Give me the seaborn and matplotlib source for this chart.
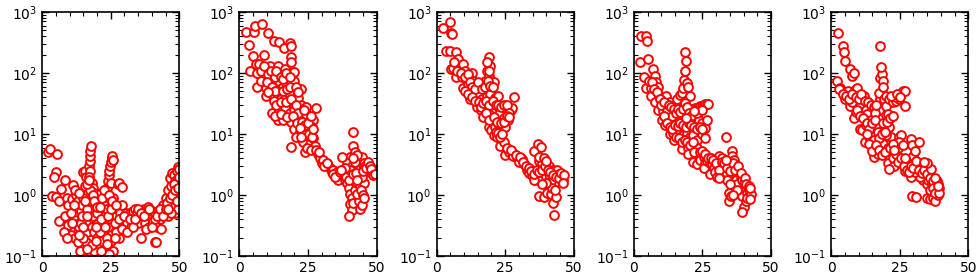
import numpy as np
import pandas as pd
import matplotlib
matplotlib.use('Agg')
import matplotlib.pyplot as plt
import seaborn as sns
from matplotlib.ticker import MultipleLocator, LogLocator, NullFormatter

# points, (x, y)
panel1 = [(2.2,5.1),(3,5.6),(5.5,4.7),(4.9,2.4),(4.5,2.0),(3.7,0.95),(4.9,0.92),(6.1,0.8),
          (6.7,1.25),(8.3,1.8),(11.2,1.45),(6.1,0.37),(8.5,0.45),(9,0.9),(9.5,0.7),(10,0.28),
          (10.5,0.22),(9.5,0.32),(11,0.85),(12,0.6),(12.5,0.75),(11.5,0.45),(12,0.2),(13,0.52),
          (13.5,0.3),(14,0.9),(14.5,0.15),(13.8,0.12),(15,2.4),(15.5,2.5),(16,2.0),(15.5,1.4),
          (16,1.0),(15,0.65),(15.5,0.45),(16,0.35),(16.5,0.25),(16,0.17),(17,0.12),(17,3.0),
          (17.3,3.6),(17.5,4.3),(17.6,5.2),(17.8,6.3),(17.5,2.5),(17.2,2.0),(18,1.6),(18.5,1.3),
          (19,1.1),(18,0.9),(18.5,0.7),(19,0.55),(19.5,0.4),(18,0.3),(19,0.25),(20,0.2),
          (20.5,0.15),(19,0.12),(20,0.9),(20.5,0.6),(21,0.45),(21.5,0.8),(22,0.55),(22,0.3),
          (22.5,0.22),(23,0.14),(23,1.0),(23.5,1.3),(24,1.7),(24.2,2.1),(24.5,2.5),(24.8,3.0),
          (25,3.5),(25.3,4.1),(25.6,4.3),(26,3.8),(25,1.6),(24,0.75),(24.5,0.5),(25,0.35),
          (25.5,0.25),(26,0.12),(24.5,0.11),(26,0.9),(26.5,0.6),(27,0.45),(27.5,1.5),(28,1.6),
          (29,1.35),(27.5,0.3),(28,0.2),(28.5,0.5),(29,0.7),(29.5,0.4),(30,0.3),(30.5,0.5),
          (31,0.35),(31.5,0.45),(32,0.5),(32.5,0.3),(33,0.55),(33.5,0.4),(34,0.6),(34.5,0.5),
          (35,0.35),(35.5,0.55),(36,0.2),(36.5,0.45),(37,0.6),(37.5,0.35),(38,0.5),(38.5,0.65),
          (39,0.3),(39.5,0.45),(40,0.55),(40.5,0.38),(41,0.17),(41.5,0.17),(41,0.5),(42,0.3),
          (42.5,0.55),(43,0.4),(43.5,0.28),(44,0.7),(44.5,0.6),(45,0.9),(45.5,0.5),(46,1.2),
          (46.5,1.9),(47,1.4),(47.5,2.3),(48,2.1),(48.5,1.7),(49,2.5),(49.5,2.9),(50,2.7),
          (47,0.7),(48,0.9),(48.5,0.5),(49,1.1),(49.5,0.6),(50,1.4),(50,0.9),(49.5,1.9),
          (46,0.45),(47,0.5),(12.5,1.0),(13,0.8),(14,0.55),(14.5,0.7),(15,0.9),(16.5,0.6),
          (17,0.8),(17.5,1.2),(18.5,0.45),(19.5,0.7),(20,0.5),(20.5,0.35),(21,0.25),(21.5,1.1),
          (22.5,0.7),(23,0.45),(23.5,0.6),(24,0.3),(26.5,0.35),(27,0.25),(13,0.17),(15,0.2),
          (18,0.15),(22,0.18),(25,0.18),(10.5,0.5),(11,0.35),(8,0.25),(9,0.2),
          (11.5,0.7),(12,1.2),(13.5,1.1),(14,0.35),(14.5,0.45),(15,0.3),(15.5,0.8),(16.5,0.45),
          (16.5,1.5),(17,1.8),(18.5,1.0),(19,0.8),(19.5,0.3),(20,0.65),(21,0.65),(21.5,0.4),
          (22,0.9),(22.5,1.2),(23,0.3),(23.5,0.2),(24,0.45),(24.5,1.0),(25,0.6),(25.5,0.8),
          (26.5,0.2),(27,0.7),(28,0.4),(29,0.28),(30,0.45),(31,0.25),(32,0.4),(33,0.3),
          (34,0.4),(35,0.6),(36,0.5),(37,0.45),(38,0.28),(39,0.6),(40,0.3),(41,0.4),(42,0.45),
          (43,0.6),(44,0.45),(45,0.6),(45.5,0.75),(46.5,0.9),(47.5,1.0),(48,1.5),(48.5,1.2),
          (49,0.8),(49.5,1.3),(50,2.0),(46,0.6),(13.5,0.22),(16.5,0.13),(21.5,0.12),(23.5,0.16),
          (19.5,0.18)]

panel2 = [(2.3,466),(5.4,466),(5.6,600),(8.2,640),(3.6,290),(4.8,190),(8.8,195),(10.3,450),
          (12.8,340),(14.6,320),(16.2,260),(18.3,310),(19,280),(19,180),(19,150),(5.4,108),
          (6,140),(7.2,140),(7.2,95),(8.5,90),(9.7,92),(11,130),(12.2,100),(14,130),(15.5,100),
          (16.5,115),(17.7,90),(19.5,105),(20,105),(6.6,60),(9.7,57),(11.5,75),(13.4,65),
          (14.6,75),(15.8,60),(17,68),(19,72),(20,75),(22.6,55),(9.7,42),(11.8,46),(14,42),
          (15.2,37),(16.5,39),(18,47),(19.8,34),(21.4,39),(22.6,30),(11.9,22),(14.6,24),
          (16.7,28),(18.3,22),(20,25),(22,25),(24.4,28),(28,27),(14,17),(15.8,17),(19,16),
          (20.8,18),(22.6,18),(24.4,21),(25.7,17),(27,17),(20,12),(21.6,10),(23.2,12),(25,11),
          (26.3,13),(19,6.2),(20.8,8.8),(23.2,7.5),(23.8,5),(25.7,7),(27,8.5),(27.5,6.3),
          (28.5,4.8),(29.4,4),(30,3.4),(30.6,3.7),(31.8,3.2),(33,2.8),(33.7,2.4),(34.3,2.6),
          (35.5,2.4),(36.1,1.8),(37.3,2.1),(38.6,1.8),(39.2,1.6),(39.8,1.3),(40.4,1.05),
          (41,0.9),(40.4,0.72),(41,0.57),(40,0.45),(41.6,0.75),(42.3,1.2),(42.9,1.6),(41.3,11),
          (41.6,6.3),(42,5),(40.4,4.2),(39.2,3.4),(37.3,4.2),(43.5,4),(44,3.2),(44.7,4.2),
          (45.3,3.4),(45.9,3.0),(46.6,2.5),(47.2,2.7),(47.8,2.4),(48.4,2.3),(49,2.6),(49.6,2.4),
          (50,2.6),(43.5,0.8),(44,0.6),(44.7,0.7),(42.9,1.05),(44,1.4),(45.3,1.6),(44.7,2.0),
          (43.5,2.5),(42.3,2.8),(41,3),(39.8,2.4),
          (4,108),(6.5,100),(8,110),(9,130),(10.5,95),(11.5,110),(13,85),(13.5,110),(15,85),
          (16,80),(17,100),(18.5,85),(8,75),(10,70),(12,60),(13,50),(16,50),(17.5,55),(18.5,60),
          (20.5,60),(21.5,48),(10.5,48),(12.5,35),(13.5,30),(15,33),(17,33),(18.8,38),(20.5,30),
          (21.5,22),(23.5,25),(13,20),(15,21),(17.5,19),(19.5,20),(21,15),(23,16),(24,14),
          (25,15),(26,20),(22,12.5),(24,9.5),(25.5,10),(26.5,9),(22.5,9),(27,12),(24.8,6),
          (26,5.5),(28,5.5),(29,5),(31,3),(32,3.4),(34,2.2),(35,2),(36.5,2.4),(38,2.3),(39,2),
          (40,1.8),(40.5,2.6),(41.5,2.2),(42.5,2.3),(43,1.8),(44.5,1.2),(45,1),(45.5,0.9),
          (45,2.5),(46,2.8),(46.8,3.5),(47.5,3),(48,2.7),(48.8,2.1),(49.5,2.2),(42,3.5),
          (43,4.5),(41.5,4),(38.5,2.8),(37,2.6)]

panel3 = [(2.3,540),(4.8,680),(5.2,460),(5.7,440),(3.6,230),(4.8,230),(5.4,115),(7.2,220),
          (7.9,170),(6,120),(8.5,120),(9.7,140),(10.3,110),(7,85),(9.1,85),(11,78),(12.8,100),
          (9.7,57),(11.5,65),(13.4,73),(14.6,60),(15.8,65),(17,57),(17.7,73),(18.3,108),
          (19,90),(19,180),(19.5,130),(20,73),(20.8,70),(12.2,37),(14,42),(15.2,47),(16.5,37),
          (18.3,42),(19.5,45),(21.4,39),(22.4,42),(14.6,28),(16.2,25),(17.7,27),(19.5,28),
          (21.4,25),(23.2,24),(25.7,24),(27,25),(27.5,27),(28.1,40),(17,19),(19,21),(20,18),
          (22.6,21),(24.4,18),(26,17),(19,13),(20,11.5),(21.4,13),(22.6,14),(23.8,12.3),
          (25,13),(20.8,9.5),(22,8.8),(23.2,6.4),(24.4,7.4),(25,4.5),(26.3,5),(27.5,5),
          (28,4.4),(29.4,4.2),(30.2,3.5),(31.2,3.9),(31.8,3.2),(33,2.6),(33.7,2.3),(34.9,2.1),
          (36.1,2.3),(35.5,5.2),(37.1,7),(38,6.2),(37.3,3.6),(38.6,3.3),(39.2,2.8),(39.8,2.4),
          (40.4,1.9),(37.3,0.97),(39.2,0.92),(40.4,1.1),(41.6,1.05),(42.3,0.75),(42.9,0.47),
          (43.5,0.93),(41,3),(42.3,2.6),(43.5,2.4),(44,2.6),(44.7,2.2),(45.3,2.0),(45.9,1.8),
          (45.3,1.7),(44,1.7),(42.9,1.5),(41.6,1.7),(38,2.0),(36.9,1.8),(35.5,1.8),(39.8,1.5),
          (6.5,150),(7.5,110),(9,100),(10.5,85),(11.5,95),(12,70),(13,60),(14,55),(15,70),
          (16.5,55),(17.5,60),(18.8,75),(19.5,62),(18.5,150),(19.2,110),(20.5,58),(10.5,50),
          (11.5,45),(13,40),(14,35),(15.5,33),(16,28),(17,32),(18,35),(19,30),(20.5,35),
          (21.5,30),(22.5,30),(23.5,28),(24.5,30),(25.5,30),(26.5,22),(18,22),(19,17),(21,19),
          (22,16),(23.5,15),(24.5,16),(25.5,20),(26.5,19),(21.5,11),(22.5,10.5),(23,9),(24,10),
          (25.5,6),(27,5.5),(29,4.6),(30.5,4.2),(31.5,3.5),(32.5,3),(33.5,2.8),(34.5,2.5),
          (35.5,2.2),(36.5,2.6),(37.5,2.4),(38.5,2.6),(39.5,3),(40.5,2.6),(41.5,2.4),(42.5,2.1),
          (43.5,2),(44.5,1.9),(45.5,2.3),(46.5,2.1),(46,1.6),(42,1.3),(43,1.2),(40,1.6),
          (38.5,1.5),(37.5,4.2),(39,4),(40,3.6)]

panel4 = [(2.5,410),(4.3,410),(4.8,340),(2.1,150),(5.2,170),(3.6,87),(4.3,57),(6.4,57),
          (7,118),(7.6,90),(8.2,70),(8.8,60),(6.4,42),(7.6,34),(9.2,42),(10.7,37),(11.9,42),
          (13.1,34),(8.8,25),(10.7,24),(11.9,28),(13.7,24),(15,30),(15.8,37),(16.8,44),
          (17.4,47),(18,57),(18.4,78),(18.6,108),(18.9,158),(18.6,220),(19.3,68),(19.9,60),
          (20.5,42),(21.1,25),(21.7,24),(22.4,27),(23,27),(23.6,28),(24.2,29),(24.8,29),
          (25.4,30),(26,31),(26.6,31),(27.2,31),(10.4,17),(11.3,14),(12.5,18),(13.7,15),
          (15,17),(16.2,18),(17.4,20),(18.6,19),(19.9,19),(21.1,18),(22.4,20),(23.6,17),
          (24.8,15),(26,12.5),(26.6,17),(13.1,10),(14.4,10.6),(16.2,11.3),(18,9.5),(19.3,10.6),
          (20.5,8.8),(21.7,9.5),(23,8),(24.8,10),(26,8.5),(17.4,5.7),(19.9,6),(21.7,5.7),
          (23,6),(19.9,4.8),(21.7,3.5),(23.6,4.2),(23,3.2),(24.2,3.8),(25.4,4.2),(26,3.4),
          (25.4,2.8),(26.6,3.6),(27.9,3.4),(28.5,3.2),(29.1,2.8),(27.9,2.2),(29.7,2.4),
          (30.3,2.0),(30.9,4.4),(31.6,3.2),(32.2,4),(32.8,2.8),(33.5,2.4),(33.7,8.8),(34,1.8),
          (34.7,1.1),(34.7,0.8),(35.3,0.95),(35.9,5.3),(35.9,4.4),(36.5,3.8),(36.5,2.8),
          (37.1,2.2),(37.1,1.8),(37.7,1.5),(38.3,2.4),(38.9,2.0),(38.9,1.1),(39.5,1.8),
          (39.5,0.95),(40.2,0.65),(39.5,0.53),(40.8,0.8),(40.8,1.3),(41.4,1.1),(41.4,0.9),
          (42,1.2),(42.6,1.05),(42.4,0.85),
          (5.5,75),(6.5,70),(7.5,55),(8.5,48),(9.5,38),(10,30),(11,33),(12,24),(12.8,30),
          (13.5,28),(14,20),(14.5,26),(15.5,22),(16,26),(17,23),(18,26),(18.8,32),(19.5,28),
          (20,22),(20.8,20),(11,20),(12,15),(13,13),(14,12),(15,14),(16,13.5),(17,15),(18,14),
          (19,13),(20,15),(21,14),(22,13),(23,12),(24,13),(25,12),(14.5,8),(15.5,9),(16.5,8.5),
          (17.5,7.5),(18.5,8),(19.5,7.5),(20.5,6.5),(21.5,7.5),(22,5),(24,5),(25,5.3),(26,4.8),
          (27,4),(28,4),(29,3.8),(30,3.3),(31,2.6),(32,3.5),(33,3.3),(34,2.8),(35,2.5),(36,3.3),
          (37,2.6),(38,3),(39,2.3),(40,1.6),(40.5,1.9),(41,1.5),(42,1.4),(42.5,1.3),(37.5,1.2),
          (36,1.0),(35,1.5),(33.5,3.8),(31,1.9),(19,18),(23,22),(25,25),(22,24)]

panel5 = [(2.7,450),(2.3,73),(3.3,57),(4.2,280),(4.6,217),(5,155),(4,50),(5.2,37),(6.2,50),
          (7,115),(7.7,90),(8.5,100),(7,29),(7.7,34),(8.6,52),(9.5,57),(8.3,18),(9.1,23),
          (10.7,29),(12,42),(10.4,12.3),(11.4,11.5),(12.6,25),(12.6,14),(13.2,21),(14.4,17),
          (12.3,7.4),(13.8,8.9),(15.1,10.6),(15.7,8),(15.1,6.1),(15.7,4.2),(17,4.8),(16.3,14),
          (17,18),(17.5,25),(17.8,37),(17.3,47),(17.8,84),(18.4,95),(18.8,73),(18.3,125),
          (17.8,280),(18.8,60),(19.4,37),(20,29),(20,42),(20.6,21),(21.2,13),(21.9,8.9),
          (20,9.5),(18.8,7),(20.6,5.8),(21.2,4),(20.6,3.4),(22.5,4),(23.1,3.0),(21.2,2.7),
          (23.7,4.8),(24.3,5.8),(24.9,8.9),(25.6,9.5),(24.9,7.4),(26.2,6.6),(21.2,37),
          (22.5,33),(23.7,35),(24.9,37),(25.6,45),(26.2,50),(26.8,50),(26.8,29),(25.6,3.4),
          (26.8,2.5),(27.4,3.1),(28,2.7),(28.6,3.3),(29.3,8.3),(29.6,6.6),(29.9,4.4),
          (30.5,3.4),(30.5,5.3),(31.1,3.0),(29.6,0.97),(31.1,0.93),(31.7,2.5),(32.1,7.4),
          (32.3,3.4),(32.9,3.0),(33.6,3.3),(33.6,1.8),(34.2,2.3),(34.8,1.5),(34.8,0.88),
          (35.4,1.8),(36,1.2),(36,0.85),(36.7,1.6),(37.3,0.88),(37.9,0.8),(37.9,1.5),
          (38.5,1.2),(38.5,1.7),(39.1,1.5),(39.1,1.0),(39.5,1.3),(34.8,2.2),(32.3,2.0),
          (29.3,2.0),(30.5,2.4),
          (3,55),(4.5,45),(5.5,42),(6.5,38),(7.5,45),(9,40),(10,38),(11,45),(12.5,35),
          (13.5,33),(14.5,30),(15.5,28),(16,22),(16.5,30),(9.5,25),(10.5,20),(11.5,18),(13,15),
          (14,12),(15,15),(16,17),(17,11),(17.5,8.5),(18.5,10),(19.5,11),(19,15),(20.5,16),
          (21.5,18),(22.5,20),(23.5,40),(22,42),(24,45),(25,40),(13,10),(14,7),(14.8,5.2),
          (16.5,6.5),(17.5,5.5),(18.5,4.5),(19.5,5),(21.5,6),(22.5,7),(23,5.5),(24.5,3.5),
          (25.5,4),(26.5,3),(27.5,2.6),(28.5,2.4),(27,4),(29,3),(30,2.8),(31,3.6),(32,2.6),
          (33,2.3),(34,2.6),(35,2.2),(36,1.9),(37,1.7),(38,1.9),(36.5,2.7),(35,3.3),(34,3.5),
          (37,1.3),(38,1.1),(39.5,1.1),(38.8,1.4)]

panels = [panel1, panel2, panel3, panel4, panel5]

sns.set_style('ticks')
plt.rcParams['font.family'] = ['DejaVu Sans']

fig, axes = plt.subplots(1, 5, figsize=(9.8, 2.79), dpi=100)
plt.subplots_adjust(left=0.043, right=0.988, bottom=0.082, top=0.957, wspace=0.438)

for ax, pts in zip(axes, panels):
    df = pd.DataFrame(pts, columns=['x', 'y'])
    # white-filled rings so overlapping points stay readable
    sns.scatterplot(data=df, x='x', y='y', ax=ax, marker='o', s=40,
                    facecolor='white', edgecolor='red', linewidth=1.4)
    ax.set_yscale('log')
    ax.set_xlim(0, 50)
    ax.set_ylim(0.1, 1000)
    ax.set_xticks([0, 25, 50])
    ax.xaxis.set_minor_locator(MultipleLocator(5))
    ax.yaxis.set_major_locator(LogLocator(base=10, numticks=10))
    ax.yaxis.set_minor_locator(LogLocator(base=10, subs=np.arange(2, 10), numticks=10))
    ax.yaxis.set_minor_formatter(NullFormatter())
    ax.tick_params(which='both', direction='in', top=True, right=True, colors='black',
                   labelsize=10)
    ax.tick_params(which='major', length=5, width=1)
    ax.tick_params(which='minor', length=3, width=0.8)
    for sp in ax.spines.values():
        sp.set_linewidth(1.2)
        sp.set_color('black')
    ax.set_xlabel('')
    ax.set_ylabel('')

fig.savefig('out.png', dpi=100)
